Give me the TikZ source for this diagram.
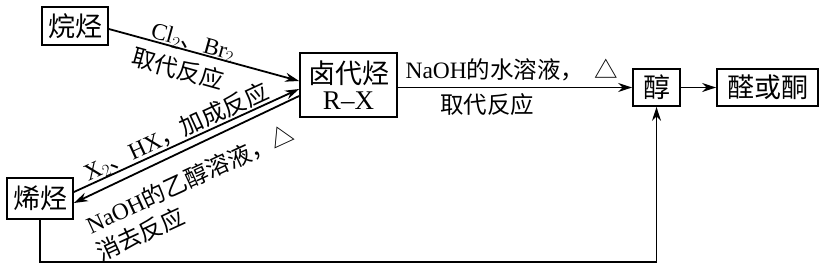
\documentclass[tikz,border=0pt]{standalone}
\usepackage{fontspec}
\setmainfont{Liberation Serif}
\newfontfamily\cjk{Noto Sans CJK SC}
\usetikzlibrary{arrows.meta,calc}
\begin{document}
\begin{tikzpicture}[x=1pt,y=-1pt,
  box/.style={draw,line width=1.8pt,inner sep=0pt,font=\fontsize{27}{29}\selectfont\cjk},
  lbl/.style={font=\fontsize{23.5}{25}\selectfont,inner sep=0pt},
  clbl/.style={font=\fontsize{23.5}{25}\selectfont\cjk,inner sep=0pt},
  conn/.style={line width=1.8pt},
  arr/.style={conn,-{Stealth[length=14pt,width=9pt]}}]
\useasboundingbox (0,0) rectangle (827,276);
\node[box,minimum width=66pt,minimum height=38pt] (alkane) at (75,26) {烷烃};
\node[box,minimum width=97pt,minimum height=64pt,align=center] (rx) at (348.5,85)
  {卤代烃\\[-3pt]{\rmfamily R–X}};
\node[box,minimum width=47pt,minimum height=37pt] (alc) at (656.5,87.5) {醇};
\node[box,minimum width=101pt,minimum height=37pt] (ket) at (767.5,87.5) {醛或酮};
\node[box,minimum width=66pt,minimum height=41pt] (alkene) at (40,198.5) {烯烃};
% alkane -> rx
\coordinate (a1) at (alkane.east |- 0,29);
\coordinate (r1) at (rx.west |- 0,81);
\draw[arr] (a1) -- (r1);
\node[lbl,rotate=-15.6] (l1) at (193,43) {Cl$_2$\cjk 、\rmfamily Br$_2$};
\node[clbl,rotate=-15.6] (l2) at (178,69) {取代反应};
% double lines
\coordinate (e1) at (alkene.east |- 0,192);
\coordinate (r2) at (rx.west |- 0,89);
\coordinate (r3) at (rx.west |- 0,96);
\coordinate (e2) at (alkene.east |- 0,203);
\draw[arr] (e1) -- (r2);
\draw[arr] (r3) -- (e2);
\node[lbl,rotate=24.7] (l3) at (176,132) {X$_2$\cjk 、\rmfamily HX\cjk ，加成反应};
\node[lbl,rotate=24.7] (l4) at (190,179) {NaOH\cjk 的乙醇溶液，△};
\node[clbl,rotate=24.7] (l5) at (140,234) {消去反应};
% rx -> alcohol
\draw[arr] (rx.east |- alc.west) -- (alc.west);
\node[lbl] (l6) at (512,70) {NaOH\cjk 的水溶液，\ \ △};
\node[clbl] (l7) at (487,105) {取代反应};
% alcohol -> ketone
\draw[arr] (alc) -- (ket);
% alkene -> alcohol
\coordinate (b1) at (alkene.south |- 0,262);
\coordinate (b2) at (alc.south |- 0,262);
\draw[arr] (alkene.south) -- (b1) -- (b2) -- (alc.south);
\end{tikzpicture}
\end{document}
